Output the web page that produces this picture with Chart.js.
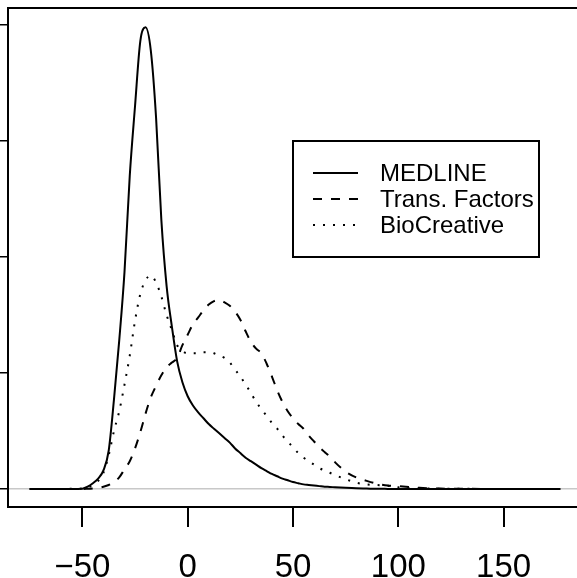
<!DOCTYPE html>
<html>
<head>
<meta charset="utf-8">
<script src="https://cdn.jsdelivr.net/npm/chart.js@4/dist/chart.umd.min.js"></script>
<style>
  body { margin: 0; background: #fff; overflow: hidden; width: 577px; height: 578px; }
  canvas { display: block; }
</style>
</head>
<body>
<canvas id="density_chart" width="590" height="578"></canvas>
<script>
// x grid shared by the three density curves
const xGrid = [-75, -65, -55, -50, -47.5, -45, -42.5, -40, -37.5, -35, -32.5, -30, -27.5, -25, -22.5, -20,
    -17.5, -15, -12.5, -10, -7.5, -5, -2.5, 0, 2.5, 5, 7.5, 10, 12.5, 15, 17.5, 20, 22.5, 25, 27.5, 30,
    32.5, 35, 37.5, 40, 42.5, 45, 47.5, 50, 52.5, 55, 57.5, 60, 62.5, 65, 67.5, 70, 75, 80, 85, 90, 95,
    100, 105, 110, 120, 130, 140, 150, 160, 177];

const medline = [0, 0, 0, 0.00003, 0.0002, 0.0005, 0.0009, 0.0016, 0.0033, 0.0077, 0.0128, 0.0187, 0.0270, 0.0330, 0.0386, 0.0398,
    0.0378, 0.0320, 0.0232, 0.0175, 0.0140, 0.0110, 0.0092, 0.0080, 0.0072, 0.0066, 0.0061, 0.0056, 0.0052, 0.0048, 0.0044, 0.0040, 0.0035, 0.0031, 0.0027, 0.0024,
    0.0021, 0.0018, 0.00155, 0.0013, 0.0011, 0.0009, 0.00075, 0.0006, 0.0005, 0.0004, 0.00035, 0.0003, 0.00025, 0.0002, 0.00018, 0.00015, 0.0001, 0.00006, 0.00004, 0.00002, 0.00001,
    0, 0, 0, 0, 0, 0, 0, 0, 0];

const transFactors = [0, 0, 0, 0, 0.00002, 0.00005, 0.0001, 0.0002, 0.00035, 0.0006, 0.0010, 0.0017, 0.0024, 0.0035, 0.0049, 0.0065,
    0.0079, 0.0089, 0.0098, 0.0105, 0.0109, 0.0113, 0.0124, 0.0133, 0.0142, 0.0148, 0.0154, 0.0159, 0.0162, 0.0163, 0.0161, 0.0158, 0.0153, 0.0146, 0.0136, 0.0127,
    0.0121, 0.0117, 0.0108, 0.0097, 0.0085, 0.0075, 0.0067, 0.0061, 0.0056, 0.0052, 0.0046, 0.0041, 0.0036, 0.0032, 0.0028, 0.0023, 0.0015, 0.0010, 0.0007, 0.00045, 0.0003,
    0.00025, 0.00018, 0.0001, 0.00004, 0.00002, 0.00001, 0.00001, 0, 0];

const bioCreative = [0, 0, 0.00002, 0.00005, 0.00015, 0.0003, 0.0007, 0.0014, 0.0029, 0.0050, 0.0067, 0.0090, 0.0115, 0.0145, 0.0168, 0.0180,
    0.0184, 0.0178, 0.0166, 0.0150, 0.0137, 0.0124, 0.0119, 0.0117, 0.0117, 0.0117, 0.0118, 0.0118, 0.0117, 0.0115, 0.0113, 0.0109, 0.0103, 0.0097, 0.0090, 0.0083,
    0.0075, 0.0069, 0.0063, 0.0057, 0.0052, 0.0046, 0.0041, 0.0036, 0.0031, 0.0027, 0.0024, 0.0021, 0.0018, 0.0016, 0.0014, 0.0012, 0.00085, 0.00055, 0.0004, 0.00034, 0.00028,
    0.00015, 0.00008, 0.00005, 0.00003, 0.00002, 0.00001, 0.00001, 0, 0];

const seriesLabels = ['MEDLINE', 'Trans. Factors', 'BioCreative'];
const xTicks = [-50, 0, 50, 100, 150];
const yTicks = [0, 0.01, 0.02, 0.03, 0.04];

const FONT = '"Liberation Sans", Arial, Helvetica, sans-serif';

function points(ys) {
    return xGrid.map((x, i) => ({x: x, y: ys[i]}));
}

// R style legend box drawn in the upper right
const legendBox = {
    id: 'legendBox',
    afterDraw(chart) {
        const ctx = chart.ctx;
        ctx.save();
        ctx.lineWidth = 2;
        ctx.strokeStyle = '#000';
        ctx.setLineDash([]);
        ctx.strokeRect(293, 141, 246, 116);
        ctx.font = '24px ' + FONT;
        ctx.fillStyle = '#000';
        ctx.textBaseline = 'middle';
        chart.data.datasets.forEach((ds, i) => {
            const y = 173 + i * 26;
            ctx.beginPath();
            ctx.setLineDash(ds.borderDash || []);
            ctx.lineWidth = ds.borderWidth;
            ctx.moveTo(313, y);
            ctx.lineTo(358, y);
            ctx.stroke();
            ctx.setLineDash([]);
            ctx.fillText(ds.label, 380, y + 1);
        });
        ctx.restore();
    }
};

const ctx = document.getElementById('density_chart');
const myChart = new Chart(ctx, {
    type: 'line',
    data: {
        datasets: [{
            label: seriesLabels[0],
            data: points(medline),
            borderColor: '#000',
            borderWidth: 2,
            borderDash: []
        }, {
            label: seriesLabels[1],
            data: points(transFactors),
            borderColor: '#000',
            borderWidth: 2,
            borderDash: [9, 9]
        }, {
            label: seriesLabels[2],
            data: points(bioCreative),
            borderColor: '#000',
            borderWidth: 2,
            borderDash: [2, 8]
        }]
    },
    options: {
        responsive: false,
        animation: false,
        events: [],
        layout: {padding: 0},
        elements: {
            point: {radius: 0},
            line: {cubicInterpolationMode: 'monotone', borderCapStyle: 'butt'}
        },
        plugins: {
            legend: {display: false},
            tooltip: {enabled: false}
        },
        scales: {
            x: {
                type: 'linear',
                position: 'bottom',
                min: -85.3,
                max: 191.0,
                afterBuildTicks: scale => { scale.ticks = xTicks.map(v => ({value: v})); },
                afterFit: scale => { scale.height = 71; },
                ticks: {
                    color: '#000',
                    font: {family: FONT, size: 33},
                    padding: 21,
                    maxRotation: 0,
                    callback: v => String(v).replace('-', '\u2212')
                },
                grid: {
                    drawOnChartArea: false,
                    drawTicks: true,
                    tickLength: 20,
                    tickColor: '#000',
                    lineWidth: 2
                },
                border: {display: true, color: '#000', width: 2}
            },
            xTop: {
                type: 'linear',
                position: 'top',
                min: 0,
                max: 1,
                afterFit: scale => { scale.height = 8; },
                ticks: {display: false},
                grid: {display: false, drawTicks: false},
                border: {display: true, color: '#000', width: 2}
            },
            y: {
                type: 'linear',
                position: 'left',
                min: -0.00155,
                max: 0.04147,
                afterBuildTicks: scale => { scale.ticks = yTicks.map(v => ({value: v})); },
                afterFit: scale => { scale.width = 8; },
                ticks: {display: false},
                grid: {
                    drawOnChartArea: true,
                    drawTicks: true,
                    tickLength: 8,
                    tickColor: '#000',
                    lineWidth: 1.5,
                    color: c => (c.tick && c.tick.value === 0) ? '#c8c8c8' : 'rgba(0,0,0,0)'
                },
                border: {display: true, color: '#000', width: 2}
            }
        }
    },
    plugins: [legendBox]
});
</script>
</body>
</html>
